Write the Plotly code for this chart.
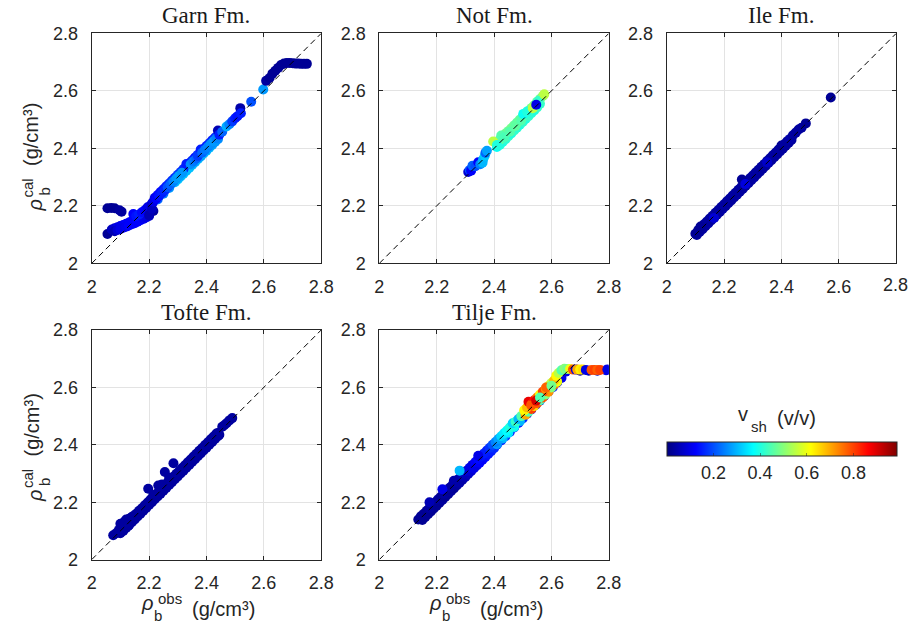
import plotly.graph_objects as go

W, H = 909, 632

# ---- data: (rho_obs, rho_cal, v_sh) per formation --------------------------
garn = [
    (2.055, 2.192, 0.02), (2.068, 2.193, 0.02), (2.080, 2.192, 0.02), (2.097, 2.185, 0.03),
    (2.104, 2.180, 0.03), (2.055, 2.102, 0.02),
    (2.070, 2.118, 0.06), (2.080, 2.122, 0.08), (2.090, 2.126, 0.10), (2.100, 2.130, 0.10),
    (2.110, 2.134, 0.11), (2.120, 2.138, 0.12), (2.130, 2.142, 0.12), (2.140, 2.147, 0.12),
    (2.150, 2.152, 0.12), (2.160, 2.158, 0.12), (2.170, 2.163, 0.12), (2.180, 2.168, 0.11),
    (2.190, 2.172, 0.11), (2.200, 2.178, 0.10),
    (2.080, 2.112, 0.05), (2.090, 2.116, 0.08), (2.100, 2.120, 0.10), (2.110, 2.124, 0.10),
    (2.120, 2.128, 0.11), (2.130, 2.132, 0.12), (2.140, 2.136, 0.12), (2.150, 2.140, 0.12),
    (2.160, 2.145, 0.12), (2.170, 2.150, 0.12), (2.180, 2.155, 0.11), (2.190, 2.160, 0.10),
    (2.200, 2.165, 0.08),
    (2.145, 2.172, 0.12), (2.155, 2.165, 0.14), (2.165, 2.170, 0.15), (2.175, 2.178, 0.13),
    (2.185, 2.185, 0.12), (2.195, 2.195, 0.10), (2.205, 2.200, 0.10), (2.210, 2.208, 0.08),
    (2.215, 2.182, 0.03), (2.200, 2.168, 0.05), (2.210, 2.190, 0.06),
    (2.230, 2.222, 0.22), (2.250, 2.242, 0.24), (2.270, 2.262, 0.27), (2.290, 2.282, 0.30),
    (2.300, 2.292, 0.31), (2.310, 2.302, 0.30), (2.320, 2.312, 0.31), (2.330, 2.322, 0.30),
    (2.340, 2.332, 0.31), (2.350, 2.342, 0.30), (2.360, 2.352, 0.29), (2.370, 2.362, 0.30),
    (2.380, 2.372, 0.28), (2.390, 2.382, 0.30), (2.400, 2.392, 0.29), (2.410, 2.402, 0.30),
    (2.420, 2.412, 0.28), (2.430, 2.422, 0.27), (2.440, 2.432, 0.26),
    (2.220, 2.228, 0.10), (2.230, 2.238, 0.12), (2.240, 2.248, 0.13), (2.250, 2.258, 0.14),
    (2.260, 2.268, 0.15), (2.270, 2.278, 0.16), (2.280, 2.288, 0.17), (2.290, 2.298, 0.16),
    (2.300, 2.308, 0.18), (2.310, 2.318, 0.17), (2.320, 2.328, 0.16), (2.340, 2.348, 0.15),
    (2.350, 2.358, 0.16), (2.360, 2.368, 0.14), (2.370, 2.378, 0.15), (2.390, 2.398, 0.16),
    (2.400, 2.408, 0.15), (2.410, 2.418, 0.16), (2.420, 2.428, 0.15), (2.430, 2.438, 0.16),
    (2.215, 2.215, 0.10), (2.225, 2.225, 0.12), (2.235, 2.235, 0.14), (2.245, 2.245, 0.15),
    (2.255, 2.255, 0.16), (2.265, 2.265, 0.20), (2.275, 2.275, 0.22), (2.285, 2.285, 0.25),
    (2.295, 2.295, 0.27), (2.305, 2.305, 0.28), (2.315, 2.315, 0.27), (2.330, 2.346, 0.15),
    (2.345, 2.345, 0.26), (2.355, 2.355, 0.24), (2.365, 2.365, 0.22), (2.370, 2.374, 0.18),
    (2.380, 2.396, 0.15), (2.385, 2.385, 0.22), (2.395, 2.395, 0.24), (2.405, 2.405, 0.25),
    (2.415, 2.415, 0.26), (2.425, 2.425, 0.27), (2.435, 2.435, 0.25), (2.440, 2.462, 0.05),
    (2.445, 2.448, 0.15), (2.455, 2.458, 0.22), (2.470, 2.476, 0.29), (2.480, 2.484, 0.25),
    (2.490, 2.494, 0.18), (2.500, 2.505, 0.15), (2.508, 2.512, 0.14), (2.518, 2.540, 0.04),
    (2.520, 2.522, 0.15), (2.556, 2.562, 0.20), (2.598, 2.605, 0.27),
    (2.608, 2.635, 0.03), (2.620, 2.645, 0.02), (2.630, 2.660, 0.02), (2.640, 2.670, 0.02),
    (2.650, 2.680, 0.02), (2.660, 2.690, 0.02), (2.670, 2.695, 0.02), (2.680, 2.697, 0.02),
    (2.690, 2.697, 0.02), (2.700, 2.696, 0.02), (2.710, 2.695, 0.02), (2.720, 2.695, 0.02),
    (2.730, 2.694, 0.02), (2.740, 2.694, 0.02), (2.750, 2.694, 0.02),
]

not_fm = [
    (2.310, 2.318, 0.08), (2.315, 2.325, 0.20), (2.320, 2.322, 0.12), (2.325, 2.340, 0.22),
    (2.335, 2.338, 0.20), (2.345, 2.352, 0.12), (2.352, 2.345, 0.25), (2.360, 2.350, 0.30),
    (2.362, 2.362, 0.30), (2.368, 2.375, 0.32), (2.370, 2.385, 0.22), (2.375, 2.392, 0.28),
    (2.410, 2.405, 0.38), (2.420, 2.412, 0.40), (2.430, 2.422, 0.40), (2.440, 2.432, 0.41),
    (2.450, 2.442, 0.42), (2.460, 2.452, 0.40), (2.470, 2.462, 0.42), (2.480, 2.472, 0.41),
    (2.490, 2.482, 0.40), (2.500, 2.492, 0.42), (2.510, 2.502, 0.40), (2.520, 2.512, 0.42),
    (2.530, 2.522, 0.41), (2.540, 2.532, 0.40), (2.550, 2.542, 0.42), (2.560, 2.555, 0.42),
    (2.420, 2.430, 0.46), (2.430, 2.442, 0.47), (2.440, 2.452, 0.48), (2.450, 2.460, 0.47),
    (2.460, 2.470, 0.48), (2.470, 2.480, 0.47), (2.480, 2.490, 0.46), (2.490, 2.500, 0.47),
    (2.500, 2.512, 0.44), (2.510, 2.520, 0.42), (2.520, 2.530, 0.44), (2.530, 2.540, 0.47),
    (2.540, 2.550, 0.48), (2.550, 2.562, 0.46), (2.560, 2.572, 0.47), (2.570, 2.582, 0.50),
    (2.397, 2.424, 0.55), (2.410, 2.412, 0.40), (2.425, 2.445, 0.45), (2.435, 2.438, 0.44),
    (2.455, 2.458, 0.45), (2.475, 2.478, 0.46), (2.495, 2.498, 0.45), (2.502, 2.520, 0.38),
    (2.515, 2.528, 0.40), (2.535, 2.540, 0.55), (2.555, 2.565, 0.42), (2.575, 2.588, 0.55),
    (2.547, 2.552, 0.10),
]

ile = [
    (2.105, 2.099, 0.03), (2.115, 2.109, 0.03), (2.125, 2.119, 0.03), (2.135, 2.129, 0.03),
    (2.145, 2.139, 0.04), (2.155, 2.149, 0.03), (2.165, 2.159, 0.03), (2.175, 2.169, 0.03),
    (2.185, 2.179, 0.03), (2.195, 2.189, 0.04), (2.205, 2.199, 0.03), (2.215, 2.209, 0.03),
    (2.225, 2.219, 0.03), (2.235, 2.229, 0.03), (2.245, 2.239, 0.04), (2.255, 2.249, 0.03),
    (2.265, 2.259, 0.03), (2.275, 2.269, 0.03), (2.285, 2.279, 0.03), (2.295, 2.289, 0.03),
    (2.305, 2.299, 0.04), (2.315, 2.309, 0.03), (2.325, 2.319, 0.03), (2.335, 2.329, 0.03),
    (2.345, 2.339, 0.03), (2.355, 2.349, 0.04), (2.365, 2.359, 0.03), (2.375, 2.369, 0.03),
    (2.385, 2.379, 0.03), (2.395, 2.389, 0.03), (2.405, 2.399, 0.03), (2.415, 2.409, 0.03),
    (2.425, 2.419, 0.03), (2.435, 2.429, 0.03),
    (2.110, 2.116, 0.02), (2.120, 2.126, 0.03), (2.130, 2.136, 0.03), (2.140, 2.146, 0.03),
    (2.150, 2.156, 0.03), (2.160, 2.166, 0.03), (2.170, 2.176, 0.03), (2.180, 2.186, 0.03),
    (2.190, 2.196, 0.03), (2.200, 2.206, 0.03), (2.210, 2.216, 0.03), (2.220, 2.226, 0.03),
    (2.230, 2.236, 0.03), (2.240, 2.246, 0.03), (2.250, 2.256, 0.03), (2.260, 2.266, 0.03),
    (2.270, 2.276, 0.03), (2.280, 2.286, 0.03), (2.290, 2.296, 0.03), (2.300, 2.306, 0.03),
    (2.310, 2.316, 0.03), (2.320, 2.326, 0.03), (2.330, 2.336, 0.03), (2.340, 2.346, 0.03),
    (2.350, 2.356, 0.03), (2.360, 2.366, 0.03), (2.370, 2.376, 0.03), (2.380, 2.386, 0.03),
    (2.390, 2.396, 0.03), (2.400, 2.410, 0.02), (2.410, 2.414, 0.03), (2.420, 2.425, 0.03),
    (2.430, 2.433, 0.04), (2.440, 2.446, 0.03), (2.450, 2.455, 0.03), (2.460, 2.466, 0.03),
    (2.470, 2.472, 0.03), (2.485, 2.487, 0.02),
    (2.100, 2.103, 0.02), (2.118, 2.128, 0.02), (2.262, 2.292, 0.02), (2.274, 2.276, 0.09),
    (2.165, 2.158, 0.08), (2.350, 2.352, 0.07), (2.572, 2.577, 0.02),
]

tofte = [
    (2.100, 2.092, 0.03), (2.110, 2.100, 0.03), (2.120, 2.110, 0.03), (2.130, 2.120, 0.03),
    (2.140, 2.130, 0.03), (2.150, 2.140, 0.03), (2.160, 2.150, 0.03), (2.170, 2.160, 0.03),
    (2.180, 2.170, 0.03), (2.190, 2.180, 0.03), (2.200, 2.190, 0.03), (2.210, 2.200, 0.03),
    (2.220, 2.210, 0.03), (2.230, 2.220, 0.03), (2.240, 2.230, 0.03), (2.250, 2.240, 0.03),
    (2.260, 2.250, 0.03), (2.270, 2.260, 0.03), (2.280, 2.270, 0.03), (2.290, 2.280, 0.03),
    (2.300, 2.290, 0.03), (2.310, 2.300, 0.03), (2.320, 2.310, 0.03), (2.330, 2.320, 0.03),
    (2.340, 2.330, 0.03), (2.350, 2.340, 0.03), (2.360, 2.350, 0.03), (2.370, 2.360, 0.03),
    (2.380, 2.370, 0.03), (2.390, 2.380, 0.03), (2.400, 2.390, 0.03), (2.410, 2.400, 0.03),
    (2.420, 2.410, 0.03), (2.430, 2.420, 0.03), (2.440, 2.430, 0.03), (2.445, 2.435, 0.03),
    (2.075, 2.085, 0.03), (2.085, 2.092, 0.03), (2.095, 2.104, 0.03), (2.105, 2.118, 0.03),
    (2.115, 2.126, 0.03), (2.125, 2.136, 0.03), (2.135, 2.144, 0.03), (2.145, 2.152, 0.03),
    (2.155, 2.160, 0.03), (2.165, 2.170, 0.03), (2.175, 2.179, 0.03), (2.185, 2.189, 0.03),
    (2.195, 2.199, 0.03), (2.205, 2.209, 0.03), (2.215, 2.219, 0.03), (2.225, 2.229, 0.03),
    (2.235, 2.239, 0.03), (2.245, 2.249, 0.03), (2.255, 2.259, 0.03), (2.265, 2.269, 0.03),
    (2.275, 2.279, 0.03), (2.285, 2.289, 0.03), (2.295, 2.299, 0.03), (2.305, 2.309, 0.03),
    (2.315, 2.319, 0.03), (2.325, 2.329, 0.03), (2.335, 2.339, 0.03), (2.345, 2.349, 0.03),
    (2.355, 2.359, 0.03), (2.365, 2.369, 0.03), (2.375, 2.379, 0.03), (2.385, 2.389, 0.03),
    (2.395, 2.399, 0.03), (2.405, 2.409, 0.03), (2.415, 2.419, 0.03), (2.425, 2.429, 0.03),
    (2.435, 2.439, 0.03), (2.440, 2.441, 0.03),
    (2.100, 2.125, 0.03), (2.112, 2.130, 0.03), (2.120, 2.140, 0.03), (2.130, 2.142, 0.03),
    (2.140, 2.148, 0.03), (2.118, 2.112, 0.03), (2.128, 2.118, 0.03),
    (2.197, 2.247, 0.03), (2.232, 2.258, 0.03), (2.255, 2.305, 0.03), (2.285, 2.336, 0.03),
    (2.215, 2.225, 0.03), (2.245, 2.262, 0.03), (2.270, 2.285, 0.03),
    (2.455, 2.463, 0.03), (2.462, 2.468, 0.03), (2.470, 2.475, 0.03), (2.480, 2.485, 0.03),
    (2.490, 2.493, 0.03),
]

tilje = [
    (2.410, 2.400, 0.15), (2.425, 2.415, 0.16), (2.440, 2.430, 0.18), (2.455, 2.445, 0.15),
    (2.470, 2.460, 0.17), (2.485, 2.476, 0.15), (2.500, 2.492, 0.16), (2.515, 2.508, 0.14),
    (2.530, 2.523, 0.12), (2.545, 2.539, 0.15), (2.560, 2.554, 0.16), (2.575, 2.570, 0.14),
    (2.590, 2.586, 0.12), (2.605, 2.601, 0.15), (2.620, 2.617, 0.12), (2.635, 2.633, 0.10),
    (2.650, 2.655, 0.10), (2.700, 2.658, 0.05), (2.730, 2.658, 0.05), (2.760, 2.658, 0.05),
    (2.790, 2.660, 0.10),
    (2.150, 2.138, 0.02), (2.160, 2.148, 0.02), (2.170, 2.158, 0.02), (2.180, 2.168, 0.02),
    (2.190, 2.178, 0.02), (2.200, 2.188, 0.02), (2.210, 2.198, 0.02), (2.220, 2.208, 0.03),
    (2.230, 2.218, 0.02), (2.240, 2.228, 0.02), (2.250, 2.238, 0.03), (2.260, 2.248, 0.02),
    (2.270, 2.258, 0.03), (2.280, 2.268, 0.04), (2.290, 2.278, 0.04), (2.300, 2.288, 0.05),
    (2.310, 2.298, 0.06), (2.320, 2.308, 0.08), (2.330, 2.318, 0.10), (2.340, 2.328, 0.10),
    (2.350, 2.338, 0.12), (2.360, 2.348, 0.12), (2.370, 2.358, 0.13), (2.380, 2.368, 0.14),
    (2.390, 2.378, 0.15), (2.400, 2.388, 0.16),
    (2.136, 2.140, 0.02), (2.145, 2.151, 0.02), (2.155, 2.160, 0.02), (2.165, 2.170, 0.02),
    (2.175, 2.180, 0.03), (2.185, 2.190, 0.02), (2.195, 2.200, 0.02), (2.205, 2.210, 0.03),
    (2.215, 2.220, 0.02), (2.225, 2.230, 0.03), (2.235, 2.240, 0.02), (2.245, 2.250, 0.03),
    (2.255, 2.260, 0.03), (2.265, 2.270, 0.04), (2.275, 2.280, 0.04), (2.285, 2.290, 0.05),
    (2.295, 2.300, 0.06), (2.305, 2.310, 0.08), (2.315, 2.320, 0.10), (2.325, 2.330, 0.10),
    (2.335, 2.340, 0.12), (2.345, 2.350, 0.13), (2.355, 2.360, 0.14), (2.365, 2.370, 0.15),
    (2.375, 2.380, 0.15), (2.385, 2.390, 0.17), (2.395, 2.400, 0.20),
    (2.175, 2.200, 0.05), (2.220, 2.245, 0.10), (2.260, 2.275, 0.04), (2.280, 2.310, 0.30),
    (2.345, 2.362, 0.10),
    (2.410, 2.402, 0.27), (2.430, 2.422, 0.30), (2.450, 2.442, 0.35), (2.470, 2.462, 0.38),
    (2.490, 2.482, 0.30),
    (2.405, 2.410, 0.25), (2.415, 2.420, 0.28), (2.425, 2.430, 0.33), (2.435, 2.440, 0.35),
    (2.445, 2.450, 0.37), (2.455, 2.460, 0.40), (2.465, 2.475, 0.33), (2.475, 2.480, 0.42),
    (2.485, 2.490, 0.30), (2.495, 2.500, 0.45),
    (2.510, 2.505, 0.70), (2.520, 2.515, 0.45), (2.530, 2.525, 0.80), (2.540, 2.535, 0.65),
    (2.550, 2.545, 0.78), (2.560, 2.555, 0.45), (2.570, 2.565, 0.78), (2.580, 2.575, 0.50),
    (2.590, 2.585, 0.72), (2.600, 2.600, 0.50), (2.610, 2.610, 0.75), (2.620, 2.620, 0.60),
    (2.505, 2.520, 0.62), (2.515, 2.530, 0.68), (2.520, 2.550, 0.88), (2.530, 2.540, 0.78),
    (2.540, 2.555, 0.85), (2.550, 2.565, 0.75), (2.560, 2.575, 0.62), (2.570, 2.585, 0.80),
    (2.580, 2.595, 0.72), (2.590, 2.605, 0.58), (2.600, 2.615, 0.55), (2.610, 2.625, 0.68),
    (2.617, 2.641, 0.62), (2.625, 2.650, 0.55), (2.635, 2.660, 0.45), (2.645, 2.665, 0.50),
    (2.530, 2.537, 0.78), (2.547, 2.554, 0.90), (2.560, 2.565, 0.45), (2.582, 2.600, 0.77),
    (2.600, 2.606, 0.48),
    (2.655, 2.664, 0.48), (2.665, 2.664, 0.60), (2.675, 2.662, 0.77), (2.685, 2.662, 0.10),
    (2.690, 2.662, 0.70), (2.700, 2.662, 0.63), (2.710, 2.662, 0.65), (2.720, 2.661, 0.10),
    (2.740, 2.661, 0.78), (2.750, 2.661, 0.80), (2.760, 2.661, 0.77), (2.770, 2.661, 0.80),
    (2.795, 2.662, 0.10),
]

panels = [("Garn Fm.", garn), ("Not Fm.", not_fm), ("Ile Fm.", ile),
          ("Tofte Fm.", tofte), ("Tilje Fm.", tilje)]

axis_range = [2.0, 2.8]
tick_vals = [2.0, 2.2, 2.4, 2.6, 2.8]
tick_text = ["2", "2.2", "2.4", "2.6", "2.8"]
one_to_one = [2.0, 2.8]
cbar_ticks = [0.2, 0.4, 0.6, 0.8]
vsh_limits = [0.0, 0.985]

# MATLAB-style jet colour map
jet = [[0.0, "rgb(0,0,128)"], [0.125, "rgb(0,0,255)"], [0.375, "rgb(0,255,255)"],
       [0.625, "rgb(255,255,0)"], [0.875, "rgb(255,0,0)"], [1.0, "rgb(128,0,0)"]]

# ---- layout geometry (pixels) ---------------------------------------------
col_px = [(91.7, 321.2), (379.3, 608.8), (666.7, 896.2)]
row_px = [(33.4, 263.4), (330.0, 559.6)]
grid_pos = [(0, 0), (1, 0), (2, 0), (0, 1), (1, 1)]

AX = "#262626"
SANS = "Liberation Sans, Arial, sans-serif"
SERIF = "Liberation Serif, Times New Roman, serif"


def px(x):
    return x / W


def py(y):
    return 1 - y / H


fig = go.Figure()
layout = dict(width=W, height=H,
              margin=dict(l=0, r=0, t=0, b=0, autoexpand=False),
              paper_bgcolor="white", plot_bgcolor="white", showlegend=False)
annotations = []


def label(text, x, y, size, angle=0, family=SANS, color=AX):
    annotations.append(dict(text=text, x=px(x), y=py(y), xref="paper", yref="paper",
                            xanchor="center", yanchor="middle", textangle=angle,
                            showarrow=False, borderpad=0,
                            font=dict(family=family, size=size, color=color)))


for i, ((name, pts), (c, r)) in enumerate(zip(panels, grid_pos)):
    k = "" if i == 0 else str(i + 1)
    x0, x1 = col_px[c]
    y0, y1 = row_px[r]
    common = dict(range=axis_range, showline=True, linecolor=AX, linewidth=1,
                  mirror="ticks", ticks="inside", ticklen=4, tickcolor=AX,
                  showgrid=True, gridcolor="#E3E3E3", gridwidth=1, zeroline=False,
                  tickfont=dict(family=SANS, size=18, color=AX))
    layout["yaxis" + k] = dict(common, domain=[py(y1), py(y0)], anchor="x" + k,
                               tickvals=tick_vals, ticktext=tick_text,
                               ticklabelstandoff=9)
    if c == 2:
        # right-most column: the last x tick label sits at the page edge,
        # so it is written as a text label under the axis instead
        layout["xaxis" + k] = dict(common, domain=[px(x0), px(x1)], anchor="y" + k,
                                   tickvals=tick_vals, ticktext=tick_text[:-1] + [""],
                                   ticklabelstandoff=7)
        label(tick_text[-1], x1 - 0.5, y1 + 21.5, 18)
    else:
        layout["xaxis" + k] = dict(common, domain=[px(x0), px(x1)], anchor="y" + k,
                                   tickvals=tick_vals, ticktext=tick_text,
                                   ticklabelstandoff=7)

    fig.add_trace(go.Scatter(
        x=[p[0] for p in pts], y=[p[1] for p in pts], mode="markers",
        marker=dict(size=10, color=[p[2] for p in pts], coloraxis="coloraxis",
                    line=dict(width=0)),
        xaxis="x" + k, yaxis="y" + k, hoverinfo="skip"))
    fig.add_trace(go.Scatter(
        x=one_to_one, y=one_to_one, mode="lines",
        line=dict(color="black", width=1, dash="6px,4px"),
        xaxis="x" + k, yaxis="y" + k, hoverinfo="skip"))

    cx = (x0 + x1) / 2
    label(name, cx, y0 - 17.6, 23, family=SERIF, color="#1a1a1a")

    # x label on the bottom row
    if r == 1:
        label("<i>ρ</i>", cx - 59, 602.5, 20)
        label("b", cx - 48.5, 615.5, 15)
        label("obs", cx - 36.5, 598.5, 15)
        label("(g/cm³)", cx + 17, 608.5, 20)
    # y label on the first column
    if c == 0:
        base_y = 205 if r == 0 else 495.5
        label("<i>ρ</i>", 34.5, base_y + 1, 20, angle=-90)
        label("b", 44, base_y - 13.5, 15, angle=-90)
        label("cal", 27, base_y - 16.5, 15, angle=-90)
        label("(g/cm³)", 31, base_y - 70, 20, angle=-90)

# colour bar title
label("v", 743, 414, 20)
label("sh", 758.5, 426, 15)
label("(v/v)", 796, 418, 20)

layout["coloraxis"] = dict(
    colorscale=jet, cmin=vsh_limits[0], cmax=vsh_limits[1],
    colorbar=dict(orientation="h", x=px(781.7), xanchor="center",
                  y=py(441.7), yanchor="top", len=230, lenmode="pixels",
                  thickness=14, thicknessmode="pixels", xpad=0, ypad=0,
                  outlinewidth=1, outlinecolor=AX, tickvals=cbar_ticks,
                  ticks="inside", ticklen=3, tickcolor="rgba(38,38,38,0.5)",
                  tickfont=dict(family=SANS, size=18, color=AX)))
layout["annotations"] = annotations
fig.update_layout(**layout)

fig.write_html("out.html")
